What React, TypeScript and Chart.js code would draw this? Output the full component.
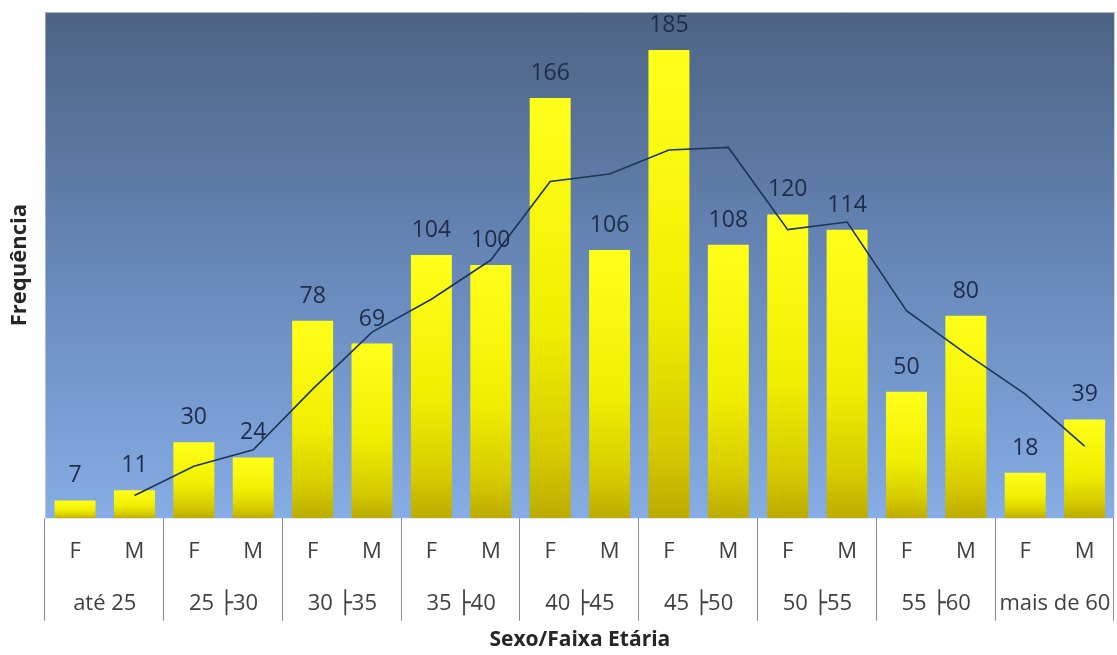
import React, { useEffect, useRef } from 'react';
import { Chart, registerables } from 'chart.js';

Chart.register(...registerables);

const sexLabels = ['F', 'M', 'F', 'M', 'F', 'M', 'F', 'M', 'F', 'M', 'F', 'M', 'F', 'M', 'F', 'M', 'F', 'M'];
const ageGroups = ['até 25', '25 ├30', '30 ├35', '35 ├40', '40 ├45', '45 ├50', '50 ├55', '55 ├60', 'mais de 60'];
const frequencies = [7, 11, 30, 24, 78, 69, 104, 100, 166, 106, 185, 108, 120, 114, 50, 80, 18, 39];
const movingAverage = [null, 9, 20.5, 27, 51, 73.5, 86.5, 102, 133, 136, 145.5, 146.5, 114, 117, 82, 65, 49, 28.5];

const FONT = "'Open Sans', 'DejaVu Sans', sans-serif";
const GROUP_TICK_PADDING = 6.4;
const TICK_FONT_SIZE = 22;

const backgroundPlugin = {
  id: 'plotBackground',
  beforeDraw(chart: any) {
    const { ctx, chartArea } = chart;
    if (!chartArea) return;
    const g = ctx.createLinearGradient(0, chartArea.top, 0, chartArea.bottom);
    g.addColorStop(0, '#4c6383');
    g.addColorStop(0.5, '#6787b8');
    g.addColorStop(1, '#86ade5');
    ctx.save();
    ctx.fillStyle = g;
    ctx.fillRect(chartArea.left, chartArea.top, chartArea.right - chartArea.left, chartArea.bottom - chartArea.top);
    ctx.strokeStyle = '#a9b3c2';
    ctx.lineWidth = 1;
    ctx.beginPath();
    ctx.moveTo(chartArea.left, chartArea.top + 0.5);
    ctx.lineTo(chartArea.right, chartArea.top + 0.5);
    ctx.stroke();
    ctx.restore();
  },
};

const decorPlugin = {
  id: 'decor',
  afterDraw(chart: any) {
    const { ctx, chartArea } = chart;
    const x = chart.scales.x;
    const x2 = chart.scales.x2;
    const lineEnd = x2.top + GROUP_TICK_PADDING * 2 + TICK_FONT_SIZE * 1.2 - 3;
    ctx.save();
    ctx.strokeStyle = '#8c8c8c';
    ctx.lineWidth = 1;
    for (let gI = 0; gI <= ageGroups.length; gI++) {
      let px: number;
      if (gI === 0) px = x.left;
      else if (gI === ageGroups.length) px = x.right;
      else px = (x.getPixelForValue(gI * 2 - 1) + x.getPixelForValue(gI * 2)) / 2;
      px = Math.round(px) - 0.5;
      ctx.beginPath();
      ctx.moveTo(px, chartArea.bottom);
      ctx.lineTo(px, lineEnd);
      ctx.stroke();
    }
    const meta = chart.getDatasetMeta(0);
    ctx.fillStyle = '#1e2c48';
    ctx.font = `23px ${FONT}`;
    ctx.textAlign = 'center';
    ctx.textBaseline = 'alphabetic';
    meta.data.forEach((el: any, i: number) => {
      ctx.fillText(String(frequencies[i]), el.x, el.y - 18);
    });
    ctx.restore();
  },
};

export default function App() {
  const canvasRef = useRef<HTMLCanvasElement | null>(null);

  useEffect(() => {
    const canvas = canvasRef.current;
    if (!canvas) return;
    const chart = new Chart(canvas, {
      type: 'bar',
      data: {
        labels: sexLabels,
        datasets: [
          {
            type: 'bar',
            label: 'Frequência',
            data: frequencies,
            order: 1,
            barPercentage: 0.69,
            categoryPercentage: 1,
            backgroundColor: (c: any) => {
              const chart = c.chart;
              if (!chart.chartArea || c.raw == null) return '#f5f000';
              const ys = chart.scales.y;
              const top = ys.getPixelForValue(c.raw);
              const bottom = ys.getPixelForValue(0);
              const g = chart.ctx.createLinearGradient(0, top, 0, bottom);
              g.addColorStop(0, '#ffff1a');
              g.addColorStop(0.55, '#f0ee00');
              g.addColorStop(0.85, '#d5ca00');
              g.addColorStop(1, '#bcab00');
              return g;
            },
            borderWidth: 0,
          },
          {
            type: 'line',
            label: 'Média móvel',
            data: movingAverage,
            order: 0,
            borderColor: '#1d3556',
            borderWidth: 1.6,
            pointRadius: 0,
            tension: 0,
            fill: false,
            spanGaps: false,
          } as any,
        ],
      },
      options: {
        responsive: false,
        animation: false,
        layout: { padding: { left: 0, right: 0, top: 12, bottom: 0 } },
        plugins: {
          legend: { display: false },
          tooltip: { enabled: false },
        },
        scales: {
          y: {
            min: 0,
            max: 200,
            grid: { display: false, drawTicks: false },
            border: { display: false },
            ticks: { display: false },
            title: {
              display: true,
              text: 'Frequência',
              color: '#262626',
              font: { family: FONT, size: 22, weight: 'bold' },
              padding: { top: 7, bottom: 12 },
            },
          },
          x: {
            offset: true,
            grid: { display: false, drawTicks: false },
            border: { display: false },
            ticks: {
              color: '#404040',
              font: { family: FONT, size: TICK_FONT_SIZE },
              padding: 20,
              maxRotation: 0,
              autoSkip: false,
            },
          },
          x2: {
            type: 'category',
            labels: ageGroups,
            position: 'bottom',
            offset: true,
            grid: { display: false, drawTicks: false },
            border: { display: false },
            ticks: {
              color: '#404040',
              font: { family: FONT, size: TICK_FONT_SIZE },
              padding: GROUP_TICK_PADDING,
              maxRotation: 0,
              autoSkip: false,
            },
            title: {
              display: true,
              text: 'Sexo/Faixa Etária',
              color: '#262626',
              font: { family: FONT, size: 21, weight: 'bold' },
              padding: { top: 4, bottom: 2 },
            },
          },
        },
      } as any,
      plugins: [backgroundPlugin, decorPlugin],
    });
    return () => chart.destroy();
  }, []);

  return (
    <div style={{ position: 'fixed', left: 0, top: 0, width: 1117, height: 655, background: '#ffffff' }}>
      <canvas ref={canvasRef} width={1117} height={655} style={{ display: 'block' }} />
    </div>
  );
}
